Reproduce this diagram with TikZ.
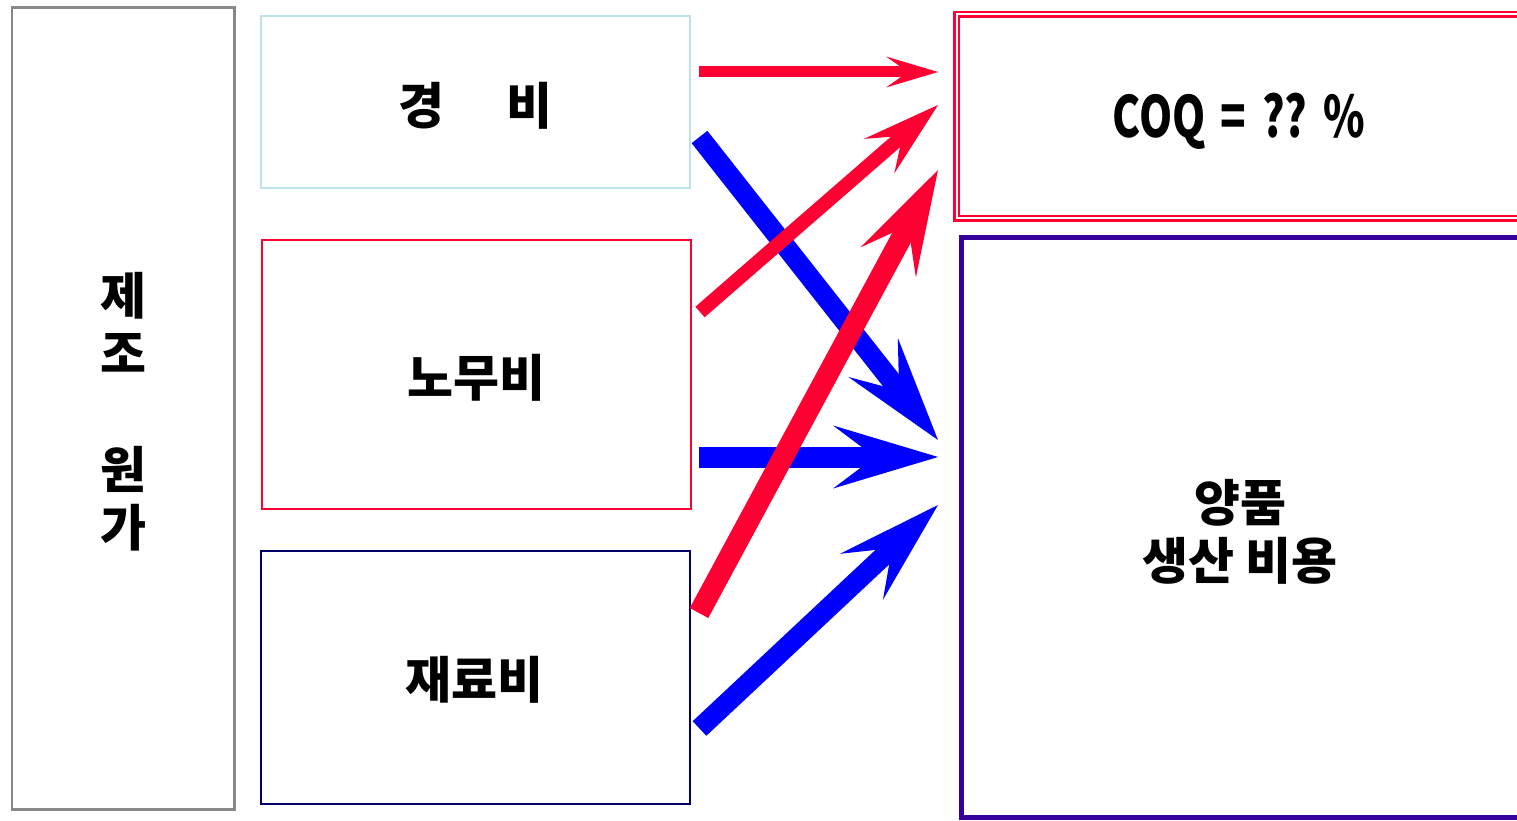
\documentclass[tikz,border=0pt]{standalone}
\usepackage{fontspec}
\setmainfont{Noto Sans CJK KR}
\usetikzlibrary{arrows.meta}
\definecolor{cred}{HTML}{FF0033}
\definecolor{cblue}{HTML}{0000FF}
\definecolor{cgray}{HTML}{888888}
\definecolor{ccyan}{HTML}{BCE3E7}
\definecolor{cnavy}{HTML}{000066}
\definecolor{cpurple}{HTML}{330099}
\begin{document}
\begin{tikzpicture}[x=1pt,y=-1pt,
  box/.style={draw, rectangle, inner sep=0pt, outer sep=0pt},
  lbl/.style={font=\fontsize{50}{58}\selectfont\bfseries, align=center, inner sep=0pt},
  redarrow/.style={draw=cred, line cap=butt},
  bluearrow/.style={draw=cblue, line cap=butt},
  tipS/.style={-{Stealth[length=52pt,width=31pt,inset=22pt,line width=0pt]}},
  tipM/.style={-{Stealth[length=78pt,width=46pt,inset=31pt,line width=0pt]}},
  tipL/.style={-{Stealth[length=105pt,width=63pt,inset=42pt,line width=0pt]}}]
\useasboundingbox (0,0) rectangle (1517,821);
\fill[white] (0,0) rectangle (1517,821);

% boxes
\node[box, draw=cgray, line width=2.5pt, minimum width=222.5pt, minimum height=802pt] (jejo) at (123.25,408.5) {};
\node[box, draw=ccyan, line width=2pt, minimum width=429pt, minimum height=172.5pt] (gyeong) at (475,102.25) {};
\node[box, draw=cred, line width=2pt, minimum width=428.8pt, minimum height=269.2pt] (nomu) at (476.6,374.1) {};
\node[box, draw=cnavy, line width=2pt, minimum width=428.8pt, minimum height=253pt] (jaeryo) at (475.1,677.2) {};
\node[box, draw=cred, double=white, double distance=2pt, line width=2.5pt, minimum width=573.5pt, minimum height=203.5pt] (coq) at (1243.25,116.25) {};
\node[box, draw=cpurple, line width=5pt, minimum width=568.5pt, minimum height=580pt] (yang) at (1245.75,527.5) {};

% labels
\node[lbl] (jejotxt) at (123,412) {제\\조\\\mbox{}\\원\\가};
\node[lbl] (gyeongtxt) at (475.5,106) {경\hspace{62pt}비};
\node[lbl] (nomutxt) at (476.5,377.5) {노무비};
\node[lbl] (jaeryotxt) at (474,680) {재료비};
\node[lbl, font=\fontsize{57}{60}\selectfont\bfseries] (coqtxt) at (1239,121) {\scalebox{0.74}[1]{COQ\hspace{20pt}=\hspace{22pt}??\hspace{22pt}\%}};
\node[lbl] (yangtxt) at (1240,532) {양품\\생산 비용};

% arrow ends
\coordinate (s1) at (699,72);
\coordinate (t1) at (938,72);
\coordinate (s2) at (700,312);
\coordinate (t2) at (938,105);
\coordinate (s3) at (699,613);
\coordinate (t3) at (938,170);
\coordinate (s4) at (699.5,137);
\coordinate (t4) at (938,440);
\coordinate (s5) at (699,457);
\coordinate (t5) at (938,457);
\coordinate (s6) at (699.5,728.5);
\coordinate (t6) at (938,505);

% arrows
\draw[bluearrow, tipL, line width=20pt] (s4) -- (t4);
\draw[bluearrow, tipL, line width=21pt] (s5) -- (t5);
\draw[bluearrow, tipL, line width=20pt] (s6) -- (t6);
\draw[redarrow, tipS, line width=11pt] (s1) -- (t1);
\draw[redarrow, tipM, line width=14pt] (s2) -- (t2);
\draw[redarrow, tipL, line width=21pt] (s3) -- (t3);
\end{tikzpicture}
\end{document}
